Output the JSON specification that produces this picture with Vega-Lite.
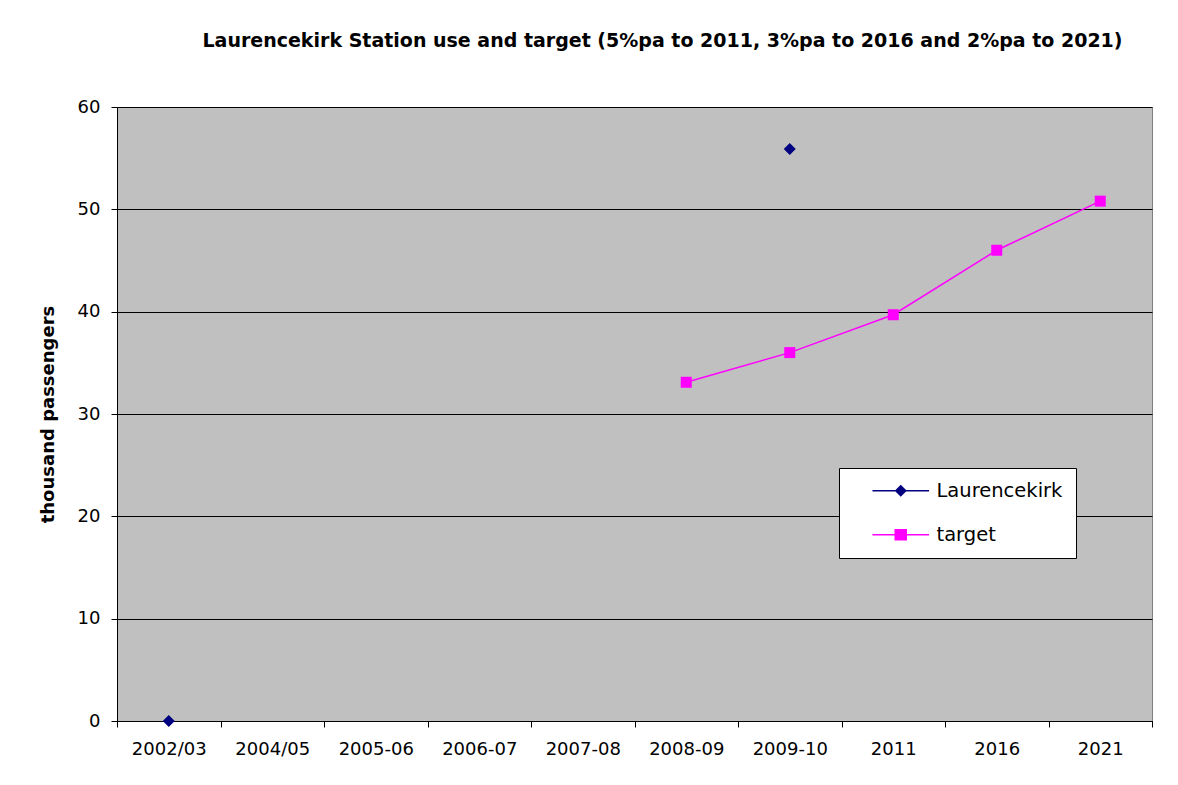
{
  "$schema": "https://vega.github.io/schema/vega-lite/v6.json",
  "width": 1035,
  "height": 614,
  "autosize": {"type": "none"},
  "padding": {"left": 117, "top": 107, "right": 26, "bottom": 64},
  "background": "white",
  "title": {
    "text": "Laurencekirk Station use and target (5%pa to 2011, 3%pa to 2016 and 2%pa to 2021)",
    "font": "DejaVu Sans",
    "fontSize": 19,
    "fontWeight": "bold",
    "color": "black",
    "anchor": "middle",
    "baseline": "alphabetic",
    "dx": 28,
    "offset": 32
  },
  "config": {
    "view": {"fill": "#C0C0C0", "stroke": "#808080", "strokeWidth": 1},
    "font": "DejaVu Sans"
  },
  "data": {
    "values": [
      {"period": "2002/03", "series": "Laurencekirk", "value": 0},
      {"period": "2009-10", "series": "Laurencekirk", "value": 55.9},
      {"period": "2008-09", "series": "target", "value": 33.1},
      {"period": "2009-10", "series": "target", "value": 36.0},
      {"period": "2011", "series": "target", "value": 39.7},
      {"period": "2016", "series": "target", "value": 46.0},
      {"period": "2021", "series": "target", "value": 50.8}
    ]
  },
  "encoding": {
    "x": {
      "field": "period",
      "type": "nominal",
      "sort": null,
      "bandPosition": 0.5,
      "scale": {
        "type": "band",
        "domain": ["2002/03", "2004/05", "2005-06", "2006-07", "2007-08", "2008-09", "2009-10", "2011", "2016", "2021"],
        "paddingInner": 0,
        "paddingOuter": 0
      },
      "axis": {
        "title": null,
        "labelAngle": 0,
        "tickBand": "extent",
        "grid": false,
        "domainColor": "black",
        "tickColor": "black",
        "tickSize": 6,
        "labelFont": "DejaVu Sans",
        "labelFontSize": 18,
        "labelColor": "black",
        "labelPadding": 13
      }
    },
    "y": {
      "field": "value",
      "type": "quantitative",
      "scale": {"domain": [0, 60], "nice": false, "zero": true},
      "axis": {
        "title": "thousand passengers",
        "titleFont": "DejaVu Sans",
        "titleFontSize": 18,
        "titleFontWeight": "bold",
        "titleColor": "black",
        "titlePadding": 20,
        "values": [0, 10, 20, 30, 40, 50, 60],
        "grid": true,
        "gridColor": "black",
        "gridWidth": 1,
        "gridOpacity": 1,
        "domainColor": "black",
        "tickColor": "black",
        "tickSize": 6,
        "labelFont": "DejaVu Sans",
        "labelFontSize": 18,
        "labelColor": "black",
        "labelPadding": 11
      }
    },
    "color": {
      "field": "series",
      "type": "nominal",
      "scale": {"domain": ["Laurencekirk", "target"], "range": ["#000080", "#FF00FF"]},
      "legend": {
        "orient": "none",
        "legendX": 722,
        "legendY": 361,
        "title": null,
        "fillColor": "white",
        "strokeColor": "black",
        "padding": 13,
        "labelFont": "DejaVu Sans",
        "labelFontSize": 19.5,
        "labelColor": "black",
        "labelExpr": "datum.label + '\u00a0\u00a0\u00a0\u00a0'",
        "symbolSize": 100,
        "symbolOffset": 39,
        "labelOffset": 26,
        "rowPadding": 23,
        "symbolType": {"expr": "datum.value === 'Laurencekirk' ? 'M-5.66,0H5.66M-1,0L0,-1L1,0L0,1Z' : 'M-5.66,0H5.66M-1.1,-1H1.1V1H-1.1Z'"},
        "symbolStrokeColor": {"expr": "datum.value === 'Laurencekirk' ? '#000080' : '#FF00FF'"},
        "symbolFillColor": {"expr": "datum.value === 'Laurencekirk' ? '#000080' : '#FF00FF'"},
        "symbolStrokeWidth": 1.5,
        "symbolOpacity": 1
      }
    }
  },
  "layer": [
    {
      "transform": [{"filter": "datum.series === 'target'"}],
      "mark": {"type": "line", "strokeWidth": 1.5}
    },
    {
      "transform": [{"filter": "datum.series === 'Laurencekirk'"}],
      "mark": {"type": "point", "filled": true, "opacity": 1, "shape": "diamond", "size": 144}
    },
    {
      "transform": [{"filter": "datum.series === 'target'"}],
      "mark": {"type": "point", "filled": true, "opacity": 1, "shape": "square", "size": 121}
    }
  ]
}
